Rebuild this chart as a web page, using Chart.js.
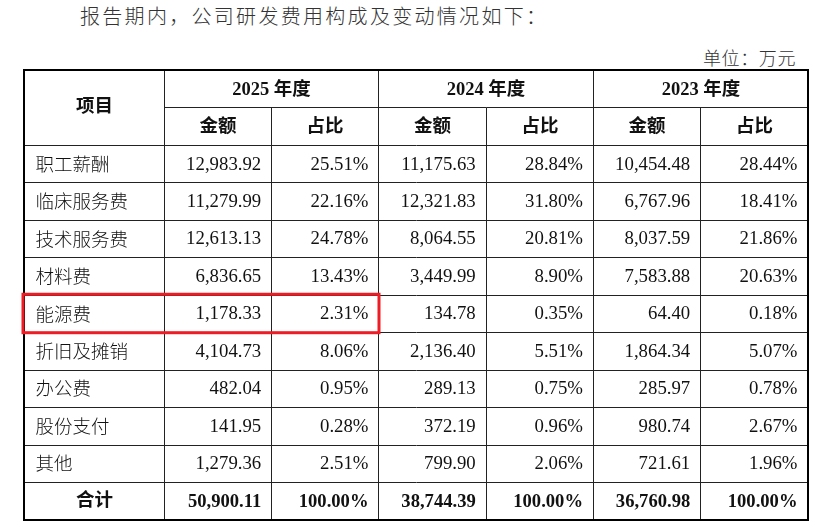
<!DOCTYPE html>
<html>
<head>
    <title>研发费用构成及变动情况</title>
    <meta charset="utf-8">
    <style>
        body { margin: 0; background: #fff; width: 830px; height: 527px; position: relative; overflow: hidden; }
        .intro {
            position: absolute; left: 80px; top: 1px;
            font-family: "Noto Sans CJK SC", sans-serif; font-weight: 300;
            font-size: 20px; letter-spacing: 2.3px; color: #333;
        }
        .unit {
            position: absolute; right: 34px; top: 44px;
            font-family: "Noto Sans CJK SC", sans-serif; font-weight: 300;
            font-size: 18px; letter-spacing: 0.6px; color: #333;
        }
        .wrap { position: absolute; left: 0; top: 0; width: 830px; height: 527px; }
    </style>
</head>
<body>
    <div class="intro">报告期内，公司研发费用构成及变动情况如下：</div>
    <div class="unit">单位：万元</div>
    <div class="wrap"><canvas id="chart"></canvas></div>

    <script src="https://cdn.jsdelivr.net/npm/chart.js"></script>
    <script>
        // 数据
        var items = ['职工薪酬', '临床服务费', '技术服务费', '材料费', '能源费', '折旧及摊销', '办公费', '股份支付', '其他'];
        var years = ['2025 年度', '2024 年度', '2023 年度'];
        var subHeads = ['金额', '占比'];
        var amount2025 = [12983.92, 11279.99, 12613.13, 6836.65, 1178.33, 4104.73, 482.04, 141.95, 1279.36];
        var share2025 = [25.51, 22.16, 24.78, 13.43, 2.31, 8.06, 0.95, 0.28, 2.51];
        var amount2024 = [11175.63, 12321.83, 8064.55, 3449.99, 134.78, 2136.40, 289.13, 372.19, 799.90];
        var share2024 = [28.84, 31.80, 20.81, 8.90, 0.35, 5.51, 0.75, 0.96, 2.06];
        var amount2023 = [10454.48, 6767.96, 8037.59, 7583.88, 64.40, 1864.34, 285.97, 980.74, 721.61];
        var share2023 = [28.44, 18.41, 21.86, 20.63, 0.18, 5.07, 0.78, 2.67, 1.96];
        var totalLabel = '合计';
        var totalAmounts = [50900.11, 38744.39, 36760.98];
        var totalShares = [100.00, 100.00, 100.00];
        var highlightItem = '能源费';

        // 表格布局 (列边界, 单位宽度)
        var colEdges = [0, 1.31, 2.31, 3.31, 4.31, 5.31, 6.31, 7.31];
        var headRows = 2;
        var nRows = headRows + items.length + 1;

        var serif = '"Liberation Serif", "Noto Sans CJK SC", serif';
        var cjk = '"Noto Sans CJK SC", sans-serif';

        function fmtAmount(v) {
            return v.toLocaleString('en-US', { minimumFractionDigits: 2, maximumFractionDigits: 2 });
        }
        function fmtShare(v) {
            return v.toFixed(2) + '%';
        }

        // 每一列为一个数据集: 点在单元格右边界, 行中心
        var columns = [amount2025, share2025, amount2024, share2024, amount2023, share2023];
        var totalsByCol = [totalAmounts[0], totalShares[0], totalAmounts[1], totalShares[1], totalAmounts[2], totalShares[2]];
        var datasets = columns.map(function(col, c) {
            var pts = col.map(function(v, i) {
                return { x: colEdges[c + 2], y: headRows + i + 0.5, v: v };
            });
            pts.push({ x: colEdges[c + 2], y: headRows + items.length + 0.5, v: totalsByCol[c], total: true });
            return {
                label: c % 2 === 0 ? 'amount' : 'share',
                data: pts,
                pointRadius: 0,
                showLine: false
            };
        });

        var tablePlugin = {
            id: 'tablePlugin',
            afterDatasetsDraw: function(chart) {
                var ctx = chart.ctx;
                var xs = chart.scales.x, ys = chart.scales.y;
                function px(v) { return Math.round(xs.getPixelForValue(v)) + 0.5; }
                function py(v) { return Math.round(ys.getPixelForValue(v)) + 0.5; }
                var last = colEdges.length - 1;

                ctx.save();
                // 内部线
                ctx.strokeStyle = '#222';
                ctx.lineWidth = 1;
                ctx.beginPath();
                ctx.moveTo(px(colEdges[1]), py(1));
                ctx.lineTo(px(colEdges[last]), py(1));
                for (var r = 2; r < nRows; r++) {
                    ctx.moveTo(px(0), py(r));
                    ctx.lineTo(px(colEdges[last]), py(r));
                }
                [1, 3, 5].forEach(function(e) {
                    ctx.moveTo(px(colEdges[e]), py(0));
                    ctx.lineTo(px(colEdges[e]), py(nRows));
                });
                [2, 4, 6].forEach(function(e) {
                    ctx.moveTo(px(colEdges[e]), py(1));
                    ctx.lineTo(px(colEdges[e]), py(nRows));
                });
                ctx.stroke();

                // 外框
                ctx.lineWidth = 2;
                ctx.strokeStyle = '#000';
                ctx.strokeRect(Math.round(xs.getPixelForValue(0)), Math.round(ys.getPixelForValue(0)),
                    Math.round(xs.getPixelForValue(colEdges[last]) - xs.getPixelForValue(0)),
                    Math.round(ys.getPixelForValue(nRows) - ys.getPixelForValue(0)));

                // 表头
                ctx.fillStyle = '#111';
                ctx.textBaseline = 'middle';
                ctx.textAlign = 'center';
                ctx.font = 'bold 18.5px ' + serif;
                ctx.fillText('项目', (px(0) + px(colEdges[1])) / 2, ys.getPixelForValue(1));
                years.forEach(function(yr, i) {
                    var a = colEdges[1 + i * 2], b = colEdges[3 + i * 2];
                    ctx.fillText(yr, (px(a) + px(b)) / 2, ys.getPixelForValue(0.5) + 1);
                    subHeads.forEach(function(s, j) {
                        var c0 = colEdges[1 + i * 2 + j], c1 = colEdges[2 + i * 2 + j];
                        ctx.fillText(s, (px(c0) + px(c1)) / 2, ys.getPixelForValue(1.5) + 1);
                    });
                });

                // 项目名称
                ctx.textAlign = 'left';
                ctx.font = '300 18.5px ' + cjk;
                items.forEach(function(it, i) {
                    ctx.fillText(it, px(0) + 11, ys.getPixelForValue(headRows + i + 0.5));
                });
                ctx.textAlign = 'center';
                ctx.font = 'bold 18.5px ' + serif;
                ctx.fillText(totalLabel, (px(0) + px(colEdges[1])) / 2, ys.getPixelForValue(nRows - 0.5));

                // 数值
                ctx.textAlign = 'right';
                chart.data.datasets.forEach(function(ds, di) {
                    var meta = chart.getDatasetMeta(di);
                    meta.data.forEach(function(el, i) {
                        var p = ds.data[i];
                        ctx.font = (p.total ? 'bold 18.6px ' : '18.8px ') + serif;
                        var txt = ds.label === 'amount' ? fmtAmount(p.v) : fmtShare(p.v);
                        ctx.fillText(txt, el.x - 10, el.y + 1);
                    });
                });

                // 红框
                var hr = headRows + items.indexOf(highlightItem);
                ctx.strokeStyle = '#ee1c24';
                ctx.lineWidth = 3;
                ctx.strokeRect(xs.getPixelForValue(0) - 0.5, ys.getPixelForValue(hr) - 0.5,
                    xs.getPixelForValue(colEdges[3]) - xs.getPixelForValue(0) + 1,
                    ys.getPixelForValue(hr + 1) - ys.getPixelForValue(hr) + 1);
                ctx.restore();
            }
        };

        var ctx = document.getElementById('chart').getContext('2d');
        var myChart = new Chart(ctx, {
            type: 'scatter',
            data: { datasets: datasets },
            options: {
                responsive: true,
                maintainAspectRatio: false,
                animation: false,
                events: [],
                layout: { padding: { left: 23.5, top: 70, right: 22.5, bottom: 7.5 } },
                plugins: { legend: { display: false }, tooltip: { enabled: false } },
                scales: {
                    x: { type: 'linear', display: false, min: 0, max: colEdges[colEdges.length - 1] },
                    y: { type: 'linear', display: false, min: 0, max: nRows, reverse: true }
                }
            },
            plugins: [tablePlugin]
        });
    </script>
</body>
</html>
